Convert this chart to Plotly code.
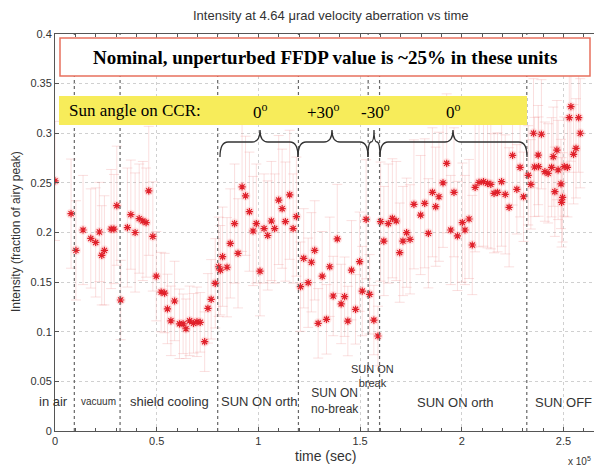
import plotly.graph_objects as go

# ---------------- data ----------------
time_s = [
    0, 7900, 10300, 13800, 17600, 20000, 21800, 23000, 24300, 27600, 29000, 30400, 32300,
    35600, 37300, 39400, 41400, 43200, 44800, 46100, 48100, 49800, 52200, 53900, 55300,
    57000, 58800, 61200, 63000, 64400, 66200,
    68100, 69800, 71400, 73600, 75200, 76800, 78800, 80500, 81300, 82400, 84600, 86200,
    88300, 90000, 92000, 93700, 95600, 97400, 99000, 100800, 102800, 104600, 106400,
    108000, 110000, 111700, 113300, 115400, 117100, 118700, 120700, 122300, 124500,
    126100, 127700, 129400, 131400,
    133500, 135100, 136800, 138800, 140700, 142400, 144000, 145800, 147800, 149800,
    151100, 153000, 154700, 156800, 158800, 160100, 161700, 163900, 165900, 167800,
    169500, 171100, 172900, 174600, 176500, 179800, 181800, 183600, 185600, 187200,
    188800, 190800, 192600, 194600, 196200, 197900,
    200300, 201600, 203600, 205200, 206600, 208500, 210700, 212700, 214300, 215900,
    217600, 219600, 221400, 223300,
    225000, 227100, 228700, 230400, 232700, 234000, 235300, 235800, 237600, 237800,
    239200, 240900, 242500, 244200, 245000, 245800, 246800, 247400, 248800, 249100,
    249600, 250400, 252000, 252900, 253700, 255000, 256200, 257500, 258300,
]
intensity = [
    0.252, 0.219, 0.182, 0.2025, 0.194, 0.190, 0.2005, 0.177, 0.182, 0.2035, 0.2035, 0.227, 0.132,
    0.205, 0.218, 0.200, 0.214, 0.2116, 0.210, 0.242, 0.196, 0.156, 0.140, 0.139, 0.123,
    0.111, 0.131, 0.108, 0.108, 0.103, 0.111,
    0.1085, 0.110, 0.1095, 0.090, 0.1236, 0.1327, 0.1488, 0.1655, 0.162, 0.1756, 0.165, 0.189,
    0.209, 0.179, 0.246, 0.237, 0.221, 0.2015, 0.209, 0.161, 0.204, 0.197, 0.2116,
    0.204, 0.2327, 0.224, 0.211, 0.238, 0.204, 0.216, 0.1454, 0.174, 0.1494,
    0.170, 0.182, 0.1085, 0.156,
    0.1125, 0.1655, 0.136, 0.1935, 0.128, 0.1353, 0.1108, 0.162, 0.1226, 0.1706,
    0.141, 0.2133, 0.1377, 0.1118, 0.0957, 0.211, 0.1914, 0.209, 0.2143, 0.2116,
    0.1797, 0.1914, 0.1998, 0.1931, 0.2284, 0.2176, 0.2294, 0.1992, 0.2405, 0.226,
    0.236, 0.250, 0.2697, 0.2025, 0.2405, 0.1965,
    0.210, 0.2025, 0.2136, 0.1874, 0.2455, 0.2505, 0.2512, 0.2495, 0.2485, 0.2395,
    0.2405, 0.2512, 0.2384, 0.2254,
    0.2777, 0.2435, 0.2657, 0.236, 0.2576, 0.2485, 0.300, 0.266, 0.278, 0.2664,
    0.299, 0.2613, 0.2596, 0.2657, 0.2764, 0.2411, 0.283, 0.263, 0.2489, 0.2304,
    0.2354, 0.2664, 0.2657, 0.3157, 0.3268, 0.2788, 0.2848, 0.3157, 0.300,
]
intensity_err = [
    0.060, 0.055, 0.050, 0.055, 0.050, 0.055, 0.050, 0.050, 0.055, 0.060, 0.055, 0.060, 0.040,
    0.060, 0.055, 0.060, 0.055, 0.060, 0.055, 0.065, 0.055, 0.045, 0.040, 0.040, 0.035,
    0.035, 0.040, 0.035, 0.030, 0.030, 0.035,
    0.030, 0.035, 0.030, 0.030, 0.035, 0.040, 0.045, 0.050, 0.045, 0.050, 0.050, 0.055,
    0.060, 0.055, 0.065, 0.060, 0.060, 0.055, 0.060, 0.045, 0.055, 0.055, 0.060,
    0.055, 0.065, 0.060, 0.060, 0.065, 0.055, 0.060, 0.045, 0.050, 0.045,
    0.050, 0.050, 0.035, 0.045,
    0.035, 0.050, 0.040, 0.055, 0.040, 0.040, 0.035, 0.050, 0.035, 0.050,
    0.045, 0.060, 0.040, 0.035, 0.030, 0.060, 0.055, 0.060, 0.060, 0.060,
    0.050, 0.055, 0.055, 0.055, 0.065, 0.060, 0.065, 0.055, 0.065, 0.060,
    0.065, 0.065, 0.070, 0.055, 0.065, 0.055,
    0.060, 0.055, 0.060, 0.050, 0.065, 0.065, 0.065, 0.065, 0.065, 0.060,
    0.060, 0.065, 0.060, 0.060,
    0.050, 0.045, 0.050, 0.045, 0.050, 0.045, 0.055, 0.050, 0.050, 0.050,
    0.055, 0.050, 0.050, 0.050, 0.050, 0.045, 0.050, 0.050, 0.045, 0.045,
    0.045, 0.050, 0.050, 0.055, 0.055, 0.050, 0.050, 0.055, 0.055,
]
phase_boundaries = [9500, 32000, 80000, 119700, 154000, 159600, 232000]
x_tickvals = [0, 50000, 100000, 150000, 200000, 250000]
x_ticktext = ["0", "0.5", "1", "1.5", "2", "2.5"]
y_tickvals = [0, 0.05, 0.1, 0.15, 0.2, 0.25, 0.3, 0.35, 0.4]
y_ticktext = ["0", "0.05", "0.1", "0.15", "0.2", "0.25", "0.3", "0.35", "0.4"]

# phase labels: (text, pixel x centre, pixel y centre, font size)
phase_labels = [
    ("in air", 53, 401, 13),
    ("vacuum", 98, 401, 10),
    ("shield cooling", 169, 401, 13),
    ("SUN ON orth", 259, 401, 13),
    ("SUN ON<br>no-break", 335, 401, 12),
    ("SUN ON<br>break", 372, 376, 11),
    ("SUN ON orth", 455, 402, 13),
    ("SUN OFF", 563, 402, 13),
]
sun_angles = [("0<sup>o</sup>", 260), ("+30<sup>o</sup>", 323), ("-30<sup>o</sup>", 375), ("0<sup>o</sup>", 453)]
braces = [(220, 260, 298), (298, 332, 368), (368, 374, 380), (380, 453, 527)]

# ---------------- geometry (page pixels; page has an 8px body margin) ----------------
OFF = 8
W, H = 602 - OFF, 468 - OFF
L, R, T, B = 55, 600, 34, 431  # plot area in page pixels


def px(x):
    return (x - L) / (R - L)


def py(y):
    return (B - y) / (B - T)


fig = go.Figure()

# soft glow under markers
fig.add_trace(go.Scatter(
    x=time_s, y=intensity, mode="markers",
    marker=dict(symbol="circle", size=10, color="rgba(255,100,100,0.16)", line=dict(width=0)),
    hoverinfo="skip", showlegend=False,
))
fig.add_trace(go.Scatter(
    x=time_s, y=intensity, mode="markers",
    error_y=dict(type="data", array=intensity_err, visible=True,
                 color="rgba(240,150,150,0.30)", thickness=1, width=5),
    marker=dict(symbol="asterisk-open", size=6, color="#e0202a",
                line=dict(color="#e0202a", width=1.2)),
    showlegend=False,
))

shapes = []
for xb in phase_boundaries:
    shapes.append(dict(type="line", xref="x", yref="y", x0=xb, x1=xb, y0=0, y1=0.4,
                       line=dict(color="#666666", width=1.2, dash="3px,3px"), layer="above"))

# red-bordered note box
shapes.append(dict(type="rect", xref="paper", yref="paper",
                   x0=px(60), x1=px(590), y0=py(76), y1=py(38),
                   fillcolor="white", line=dict(color="#e8705e", width=1.5), layer="above"))
# yellow banner
shapes.append(dict(type="rect", xref="paper", yref="paper",
                   x0=px(59), x1=px(527), y0=py(125), y1=py(96),
                   fillcolor="#f7ec5a", line=dict(width=0), layer="above"))

# curly braces
ye, yh, yp = py(157), py(142), py(130)
for x1, xm, x2 in braces:
    d = min(8, (xm - x1) / 2, (x2 - xm) / 2)
    a, m, b = px(x1), px(xm), px(x2)
    dd = d / (R - L)
    path = (f"M {a},{ye} Q {a},{yh} {a+dd},{yh} L {m-dd},{yh} Q {m},{yh} {m},{yp} "
            f"Q {m},{yh} {m+dd},{yh} L {b-dd},{yh} Q {b},{yh} {b},{ye}")
    shapes.append(dict(type="path", xref="paper", yref="paper", path=path,
                       line=dict(color="#333333", width=1.3), layer="above"))


def ann(text, x, y, size, family="Liberation Sans, Arial", color="#333333", **kw):
    d = dict(text=text, xref="paper", yref="paper", x=px(x), y=py(y), showarrow=False,
             xanchor="center", yanchor="middle",
             font=dict(family=family, size=size, color=color))
    d.update(kw)
    return d


SERIF = "Liberation Serif, Times New Roman"
annotations = [
    ann("Intensity at 4.64 μrad velocity aberration vs time", 331, 16, 13),
    ann("<b>Nominal, unperturbed FFDP value is ~25% in these units</b>", 325, 57, 19, SERIF, "black"),
    ann("Sun angle on CCR:", 67, 111, 17, SERIF, "black", xanchor="left"),
    ann("time (sec)", 325, 456, 14),
    ann("x 10<sup>5</sup>", 593, 461, 10, xanchor="right"),
    ann("Intensity (fraction of airy peak)", 16, 232, 12, textangle=-90),
]
for txt, xc in sun_angles:
    annotations.append(ann(txt, xc, 111, 17, SERIF, "black"))
for txt, xc, yc, fs in phase_labels:
    annotations.append(ann(txt, xc, yc, fs))

fig.update_layout(
    width=W, height=H, autosize=False,
    margin=dict(l=L - OFF, r=W - (R - OFF), t=T - OFF, b=H - (B - OFF), pad=0),
    paper_bgcolor="white", plot_bgcolor="white",
    shapes=shapes, annotations=annotations, showlegend=False,
    font=dict(family="Liberation Sans, Arial", size=11, color="#333333"),
)
fig.update_xaxes(
    range=[0, 268000], tickvals=x_tickvals, ticktext=x_ticktext,
    ticks="inside", ticklen=4, tickcolor="#555555",
    minor=dict(dtick=10000, ticks="inside", ticklen=3, tickcolor="#555555", showgrid=False),
    showgrid=True, gridcolor="#d0d0d0", griddash="dot", gridwidth=1,
    showline=True, linecolor="#555555", mirror="ticks", zeroline=False,
    tickfont=dict(size=11, color="#333333"), automargin=False,
)
fig.update_yaxes(
    range=[0, 0.4], tickvals=y_tickvals, ticktext=y_ticktext,
    ticks="inside", ticklen=4, tickcolor="#555555",
    showgrid=True, gridcolor="#d0d0d0", griddash="dot", gridwidth=1,
    showline=True, linecolor="#555555", mirror="ticks", zeroline=False,
    tickfont=dict(size=11, color="#333333"), automargin=False,
)

fig.write_html("out.html")
